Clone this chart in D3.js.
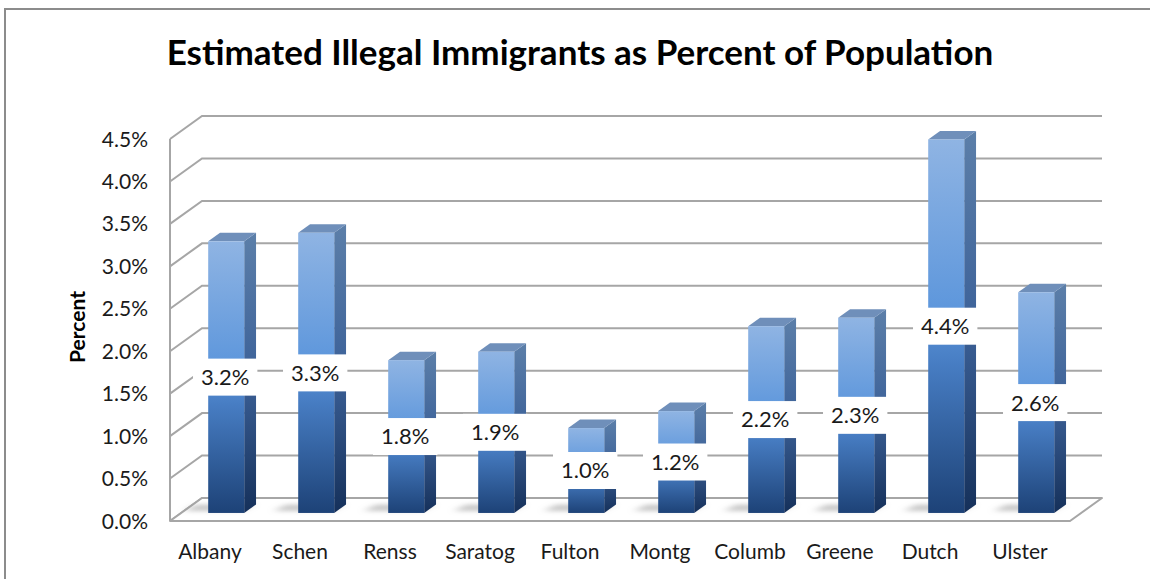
<!DOCTYPE html>
<html>
<head>
<meta charset="utf-8">
<script src="https://cdn.jsdelivr.net/npm/d3@7"></script>
<style>
  html, body { margin: 0; padding: 0; background: #fff; }
  svg { display: block; font-family: Lato, "Open Sans", "DejaVu Sans", sans-serif; }
</style>
</head>
<body>
<svg id="chart" width="1150" height="579"></svg>
<script>
// Estimated illegal immigrants as a share of county population
const counties = ["Albany", "Schen", "Renss", "Saratog", "Fulton", "Montg", "Columb", "Greene", "Dutch", "Ulster"];
const percents = [3.2, 3.3, 1.8, 1.9, 1.0, 1.2, 2.2, 2.3, 4.4, 2.6];
const tickValues = [0, 0.5, 1.0, 1.5, 2.0, 2.5, 3.0, 3.5, 4.0, 4.5];

const svg = d3.select("#chart");
const W = 1150, H = 579;

// Plot box (front plane) and oblique depth offset
const plot = { left: 170, right: 1070, bottom: 521, top: 139 };
const DEPTH = { dx: 32, dy: -23 };
const zFront = 0.35, zBack = 0.72;   // bar placement inside the depth of the floor

const x = d3.scaleBand().domain(counties)
  .range([plot.left, plot.right])
  .paddingInner(0.6).paddingOuter(0.3);
const y = d3.scaleLinear().domain([0, 4.5]).range([plot.bottom, plot.top]);
const fmt = d3.format(".1f");

// Outer chart frame
svg.append("rect").attr("x", 5).attr("y", 9).attr("width", W + 20).attr("height", H + 20)
  .attr("fill", "#fff").attr("stroke", "#8c8c8c").attr("stroke-width", 2);

const defs = svg.append("defs");
const gFront = defs.append("linearGradient").attr("id", "barFront")
  .attr("x1", 0).attr("y1", 0).attr("x2", 0).attr("y2", 1);
[[0, "#8fb4e3"], [0.45, "#5e97dc"], [0.6, "#477dc3"], [1, "#1d4277"]]
  .forEach(([o, c]) => gFront.append("stop").attr("offset", o).attr("stop-color", c));
const gSide = defs.append("linearGradient").attr("id", "barSide")
  .attr("x1", 0).attr("y1", 0).attr("x2", 0).attr("y2", 1);
[[0, "#5c7fa9"], [0.5, "#3d6299"], [1, "#15305a"]]
  .forEach(([o, c]) => gSide.append("stop").attr("offset", o).attr("stop-color", c));
defs.append("filter").attr("id", "soft").attr("x", "-50%").attr("y", "-200%")
  .attr("width", "200%").attr("height", "500%")
  .append("feGaussianBlur").attr("stdDeviation", "4 2");

// Title
svg.append("text").attr("x", 580).attr("y", 65).attr("text-anchor", "middle")
  .attr("font-size", 35).attr("font-weight", 700).attr("fill", "#000")
  .text("Estimated Illegal Immigrants as Percent of Population");

// Y axis title
svg.append("text").attr("transform", "translate(85,327) rotate(-90)")
  .attr("text-anchor", "middle").attr("font-size", 21).attr("font-weight", 700).attr("fill", "#000")
  .text("Percent");

// Side wall and back wall gridlines
const grid = svg.append("g").attr("fill", "none").attr("stroke", "#a6a6a6").attr("stroke-width", 2);
grid.selectAll("path").data(tickValues).join("path")
  .attr("d", v => {
    const yy = y(v);
    return `M${plot.left},${yy}L${plot.left + DEPTH.dx},${yy + DEPTH.dy}L${plot.right + DEPTH.dx},${yy + DEPTH.dy}`;
  });
grid.append("line").attr("x1", plot.left).attr("x2", plot.left)
  .attr("y1", y(4.5)).attr("y2", y(0));

// Floor
svg.append("path")
  .attr("d", `M${plot.left},${y(0)}L${plot.right},${y(0)}L${plot.right + DEPTH.dx},${y(0) + DEPTH.dy}L${plot.left + DEPTH.dx},${y(0) + DEPTH.dy}Z`)
  .attr("fill", "#fff").attr("stroke", "#a6a6a6").attr("stroke-width", 2).attr("stroke-linejoin", "round");

// Bar shadows on the floor
const bw = x.bandwidth();
const fdx = DEPTH.dx * zFront, fdy = DEPTH.dy * zFront;
const ddx = DEPTH.dx * (zBack - zFront), ddy = DEPTH.dy * (zBack - zFront);
svg.append("g").attr("filter", "url(#soft)").selectAll("path").data(counties).join("path")
  .attr("d", c => {
    const x0 = x(c) + fdx - 2, yb = y(0) + fdy;
    return `M${x0 - 22},${yb - 2}L${x0 + bw},${yb - 2}L${x0 + bw + ddx},${yb + ddy}L${x0 - 22 + ddx},${yb + ddy}Z`;
  })
  .attr("fill", "#9a9a9a").attr("opacity", 0.55);

// Bars
const bars = svg.append("g").selectAll("g").data(counties.map((c, i) => ({ c, v: percents[i] }))).join("g");
bars.append("path").attr("fill", "url(#barSide)")
  .attr("d", d => {
    const xr = x(d.c) + fdx + bw, yt = y(d.v) + fdy, yb = y(0) + fdy;
    return `M${xr},${yt}L${xr + ddx},${yt + ddy}L${xr + ddx},${yb + ddy}L${xr},${yb}Z`;
  });
bars.append("path").attr("fill", "#6f8fba")
  .attr("d", d => {
    const xl = x(d.c) + fdx, xr = xl + bw, yt = y(d.v) + fdy;
    return `M${xl},${yt}L${xr},${yt}L${xr + ddx},${yt + ddy}L${xl + ddx},${yt + ddy}Z`;
  });
bars.append("rect").attr("fill", "url(#barFront)")
  .attr("x", d => x(d.c) + fdx).attr("width", bw)
  .attr("y", d => y(d.v) + fdy).attr("height", d => y(0) - y(d.v));

// Value labels on white boxes at bar mid-height
const labels = svg.append("g").selectAll("g").data(counties.map((c, i) => ({ c, v: percents[i] }))).join("g")
  .attr("transform", d => `translate(${x(d.c) + fdx + bw / 2 - 1},${y(d.v / 2) + fdy})`);
labels.append("rect").attr("fill", "#fff");
labels.append("text").attr("text-anchor", "middle").attr("dy", "0.36em")
  .attr("font-size", 22).attr("fill", "#1a1a1a")
  .text(d => fmt(d.v) + "%");
labels.each(function () {
  const g = d3.select(this);
  const w = g.select("text").node().getComputedTextLength();
  g.select("rect").attr("x", -w / 2 - 8).attr("width", w + 16).attr("y", -18.5).attr("height", 37);
});

// Y tick labels
svg.append("g").selectAll("text").data(tickValues).join("text")
  .attr("x", 148).attr("y", v => y(v)).attr("dy", "0.36em").attr("text-anchor", "end")
  .attr("font-size", 21).attr("fill", "#1a1a1a")
  .text(v => fmt(v) + "%");

// Category labels
svg.append("g").selectAll("text").data(counties).join("text")
  .attr("x", c => x(c) + bw / 2 - 5).attr("y", 559).attr("text-anchor", "middle")
  .attr("font-size", 21).attr("fill", "#1a1a1a")
  .text(c => c);
</script>
</body>
</html>
